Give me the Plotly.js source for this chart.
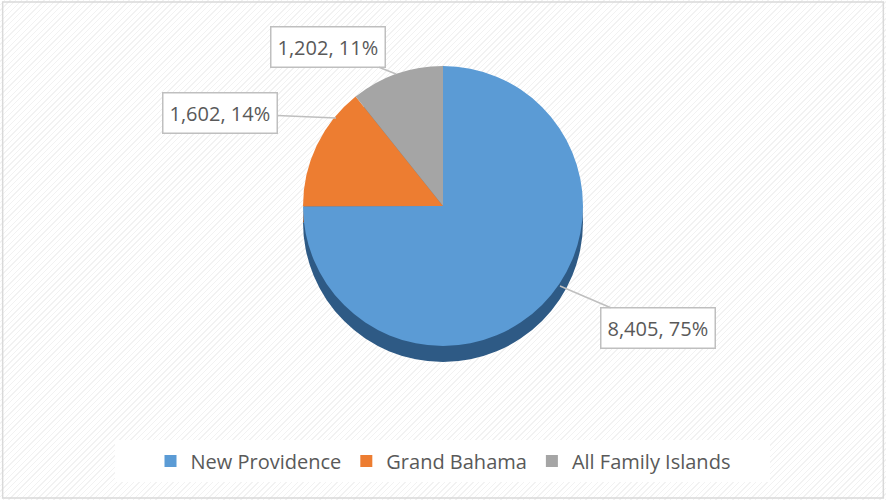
<!DOCTYPE html>
<html>
<head>
<meta charset="utf-8">
<script src="https://cdn.plot.ly/plotly-3.0.1.min.js"></script>
<style>
  html, body { margin: 0; padding: 0; }
  body {
    width: 886px; height: 500px; overflow: hidden;
    background: repeating-linear-gradient(135deg, #ffffff 0px, #ffffff 3px, #f2f2f2 3px, #f2f2f2 4px);
  }
  #chart { width: 886px; height: 500px; }
</style>
</head>
<body>
<div id="chart"></div>
<script>
// ---- Data ----
const categories = ["New Providence", "Grand Bahama", "All Family Islands"];
const counts = [8405, 1602, 1202];
const topColors = ["#5B9BD5", "#ED7D31", "#A5A5A5"];
const sideColors = ["#2E5A85", "#A3531C", "#6E6E6E"];

const total = counts.reduce((a, b) => a + b, 0);
const labelText = counts.map(v => v.toLocaleString("en-US") + ", " + Math.round(100 * v / total) + "%");

const pieTop = 0.868, pieBottom = 0.308, depth = 0.032;

const shadow = {
  type: "pie",
  labels: categories,
  values: counts,
  sort: false,
  direction: "clockwise",
  rotation: 0,
  textinfo: "none",
  hoverinfo: "skip",
  showlegend: false,
  marker: { colors: sideColors, line: { width: 0 } },
  domain: { x: [0, 1], y: [pieBottom - depth, pieTop - depth] }
};

const face = {
  type: "pie",
  labels: categories,
  values: counts,
  sort: false,
  direction: "clockwise",
  rotation: 0,
  textinfo: "none",
  marker: { colors: topColors, line: { width: 0 } },
  domain: { x: [0, 1], y: [pieBottom, pieTop] }
};

// annotation callouts (layout positions, in pixels)
const calloutPos = [
  { x: 560, y: 286, ax: 98, ay: 42 },
  { x: 336, y: 118, ax: -116, ay: -5 },
  { x: 396, y: 74, ax: -68, ay: -27 }
];
const annotations = labelText.map((t, i) => ({
  text: t,
  xref: "paper", yref: "paper",
  x: calloutPos[i].x / 886, y: 1 - calloutPos[i].y / 500,
  ax: calloutPos[i].ax, ay: calloutPos[i].ay,
  showarrow: true, arrowhead: 0, arrowwidth: 1.5, arrowcolor: "#BFBFBF",
  bgcolor: "#FFFFFF", bordercolor: "#BFBFBF", borderwidth: 1.5, borderpad: 6,
  font: { family: "Open Sans, sans-serif", size: 20, color: "#595959" }
}));

const layout = {
  width: 886, height: 500,
  margin: { l: 0, r: 0, t: 0, b: 0 },
  paper_bgcolor: "rgba(0,0,0,0)",
  plot_bgcolor: "rgba(0,0,0,0)",
  showlegend: true,
  legend: {
    orientation: "h",
    x: 0.5, xanchor: "center",
    y: 0.078, yanchor: "middle",
    bgcolor: "rgba(0,0,0,0)",
    borderwidth: 0,
    font: { family: "Open Sans, sans-serif", size: 20, color: "#595959" },
    itemwidth: 30
  },
  annotations: annotations,
  shapes: [
    {
      type: "rect", xref: "paper", yref: "paper",
      x0: 0.003, x1: 0.997, y0: 0.004, y1: 0.996,
      line: { color: "#D9D9D9", width: 1.5 }, fillcolor: "rgba(0,0,0,0)"
    },
    {
      type: "rect", xref: "paper", yref: "paper", layer: "below",
      x0: 115 / 886, x1: 770 / 886, y0: 1 - 482 / 500, y1: 1 - 440 / 500,
      line: { width: 0 }, fillcolor: "#FFFFFF"
    }
  ]
};

Plotly.newPlot("chart", [shadow, face], layout, { displayModeBar: false, staticPlot: true });
</script>
</body>
</html>
